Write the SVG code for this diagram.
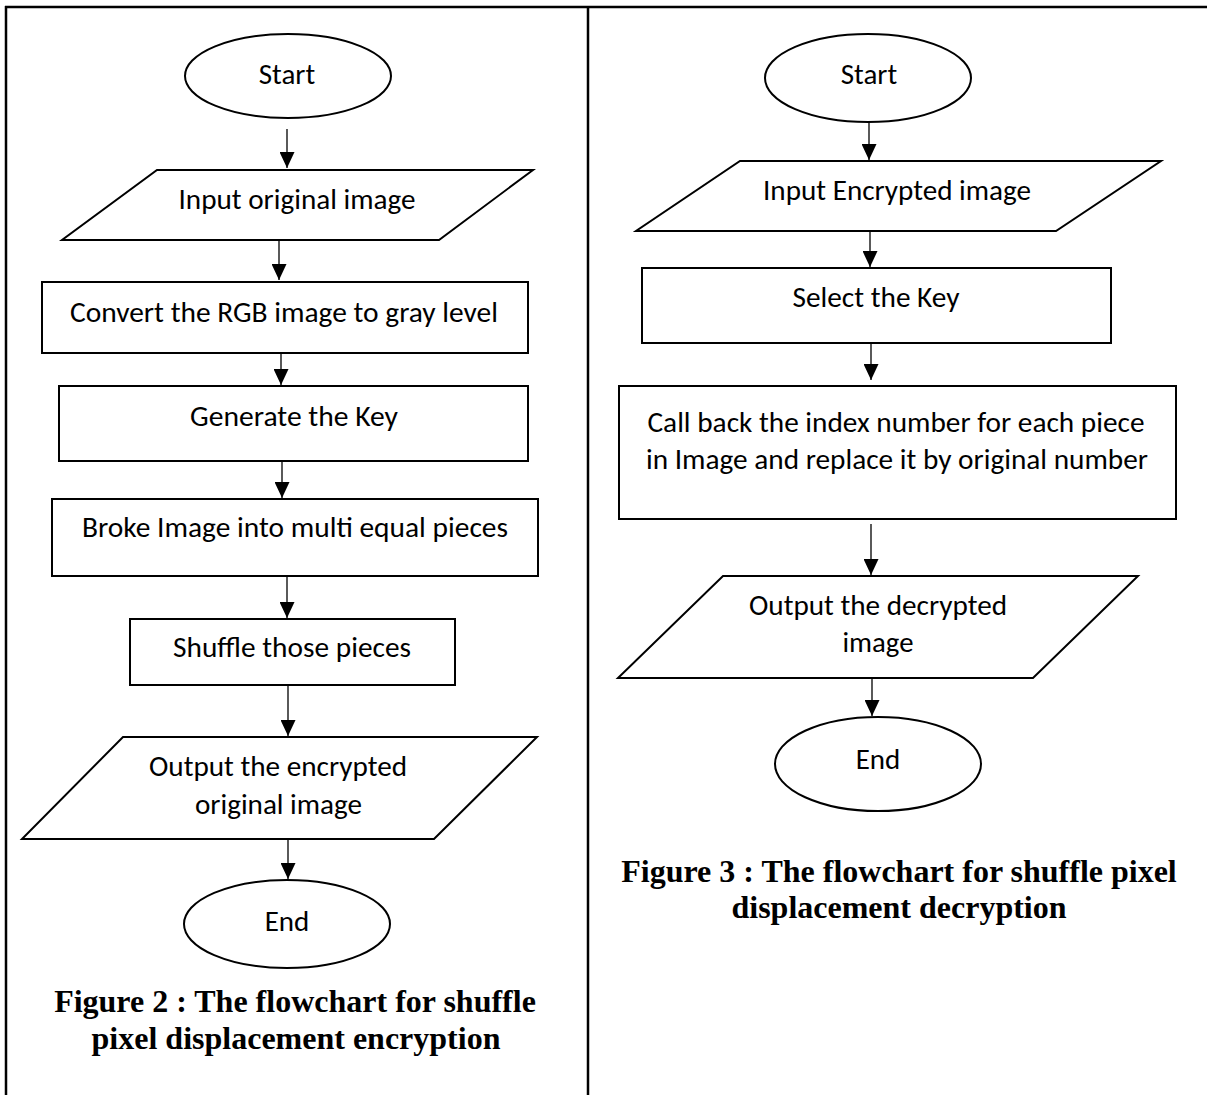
<svg xmlns="http://www.w3.org/2000/svg" width="1207" height="1095" viewBox="0 0 1207 1095">
<style>
.shape{fill:#fff;stroke:#000;stroke-width:2}
.lbl{font-family:Carlito,Lato,"Liberation Sans",sans-serif;font-size:29px;fill:#000;text-anchor:middle}
.cap{font-family:"Liberation Serif","Times New Roman",serif;font-weight:bold;font-size:32px;fill:#000;text-anchor:middle}
.frame{stroke:#000;stroke-width:2.5;fill:none}
.conn line{stroke:#000;stroke-width:1.3;marker-end:url(#ah)}
</style>
<defs>
<marker id="ah" markerUnits="userSpaceOnUse" markerWidth="16" markerHeight="15" refX="16" refY="7.5" orient="auto" viewBox="0 0 16 15">
<path d="M0,0 L16,7.5 L0,15 Z" fill="#000"/>
</marker>
</defs>
<rect width="1207" height="1095" fill="#fff"/>
<g id="frame">
<line class="frame" x1="5" y1="7" x2="1207" y2="7"/>
<line class="frame" x1="6" y1="6" x2="6" y2="1095"/>
<line class="frame" x1="588" y1="6" x2="588" y2="1095"/>
</g>
<g id="left-start"><ellipse class="shape" cx="288" cy="76" rx="103" ry="42"/><text class="lbl" x="287" y="84">Start</text></g>
<g id="left-input"><polygon class="shape" points="157,170 533,170 439,240 62,240"/><text class="lbl" x="297" y="209" textLength="237" lengthAdjust="spacingAndGlyphs">Input original image</text></g>
<g id="left-convert"><rect class="shape" x="42" y="282" width="486" height="71"/><text class="lbl" x="284" y="322" textLength="428" lengthAdjust="spacingAndGlyphs">Convert the RGB image to gray level</text></g>
<g id="left-generate"><rect class="shape" x="59" y="386" width="469" height="75"/><text class="lbl" x="294" y="426" textLength="208" lengthAdjust="spacingAndGlyphs">Generate the Key</text></g>
<g id="left-broke"><rect class="shape" x="52" y="499" width="486" height="77"/><text class="lbl" x="295" y="537" textLength="426" lengthAdjust="spacingAndGlyphs">Broke Image into multi equal pieces</text></g>
<g id="left-shuffle"><rect class="shape" x="130" y="619" width="325" height="66"/><text class="lbl" x="292" y="657" textLength="238" lengthAdjust="spacingAndGlyphs">Shuffle those pieces</text></g>
<g id="left-output"><polygon class="shape" points="123,737 537,737 434,839 22,839"/><text class="lbl" x="278" y="776" textLength="258" lengthAdjust="spacingAndGlyphs">Output the encrypted</text><text class="lbl" x="278.5" y="814" textLength="167" lengthAdjust="spacingAndGlyphs">original image</text></g>
<g id="left-end"><ellipse class="shape" cx="287" cy="924" rx="103" ry="44"/><text class="lbl" x="287" y="931">End</text></g>
<g id="left-caption"><text class="cap" x="295" y="1012">Figure 2 : The flowchart for shuffle</text><text class="cap" x="296" y="1049">pixel displacement encryption</text></g>
<g id="right-start"><ellipse class="shape" cx="868" cy="78" rx="103" ry="44"/><text class="lbl" x="869" y="84">Start</text></g>
<g id="right-input"><polygon class="shape" points="740,161 1161,161 1056,231 636,231"/><text class="lbl" x="897" y="200" textLength="268" lengthAdjust="spacingAndGlyphs">Input Encrypted image</text></g>
<g id="right-select"><rect class="shape" x="642" y="268" width="469" height="75"/><text class="lbl" x="876" y="307" textLength="167" lengthAdjust="spacingAndGlyphs">Select the Key</text></g>
<g id="right-callback"><rect class="shape" x="619" y="386" width="557" height="133"/><text class="lbl" x="896" y="432" textLength="497" lengthAdjust="spacingAndGlyphs">Call back the index number for each piece</text><text class="lbl" x="897" y="469" textLength="502" lengthAdjust="spacingAndGlyphs">in Image and replace it by original number</text></g>
<g id="right-output"><polygon class="shape" points="723,576 1138,576 1033,678 618,678"/><text class="lbl" x="878" y="615" textLength="258" lengthAdjust="spacingAndGlyphs">Output the decrypted</text><text class="lbl" x="878" y="652" textLength="71" lengthAdjust="spacingAndGlyphs">image</text></g>
<g id="right-end"><ellipse class="shape" cx="878" cy="764" rx="103" ry="47"/><text class="lbl" x="878" y="769">End</text></g>
<g id="right-caption"><text class="cap" x="899" y="882">Figure 3 : The flowchart for shuffle pixel</text><text class="cap" x="899" y="918">displacement decryption</text></g>
<g id="connectors" class="conn">
<line x1="287" y1="129" x2="287" y2="168"/>
<line x1="279" y1="240" x2="279" y2="280"/>
<line x1="281" y1="353" x2="281" y2="385"/>
<line x1="282" y1="461" x2="282" y2="498"/>
<line x1="287" y1="576" x2="287" y2="618"/>
<line x1="288" y1="685" x2="288" y2="736"/>
<line x1="288" y1="839" x2="288" y2="879"/>
<line x1="869" y1="122" x2="869" y2="160"/>
<line x1="870" y1="231" x2="870" y2="267"/>
<line x1="871" y1="343" x2="871" y2="380"/>
<line x1="871" y1="524" x2="871" y2="575"/>
<line x1="872" y1="678" x2="872" y2="716"/>
</g>
</svg>
